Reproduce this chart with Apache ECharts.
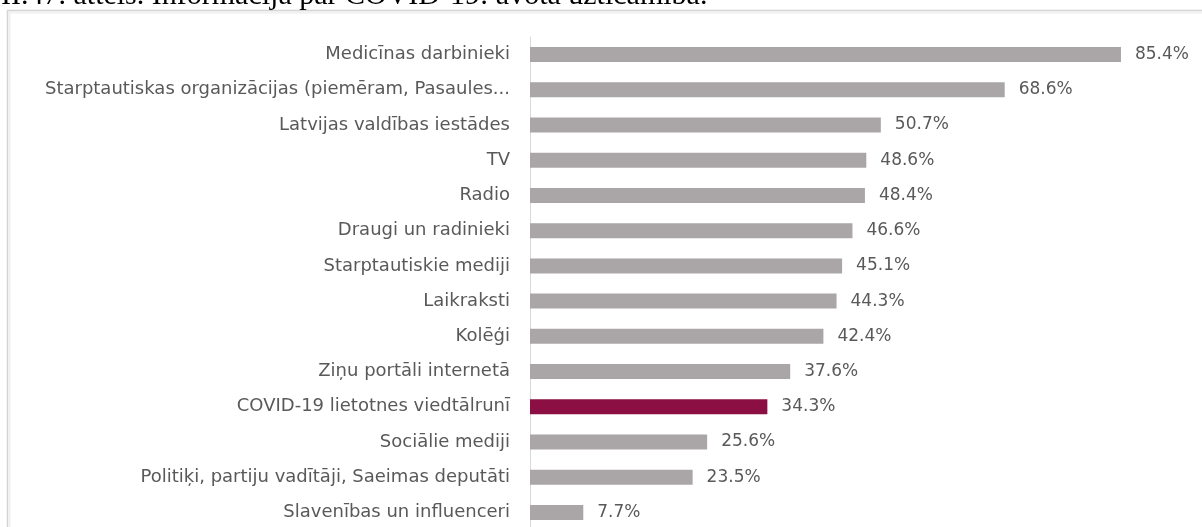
<!DOCTYPE html>
<html lang="lv">
<head>
    <title>Informācija par COVID-19: avota uzticamība</title>
    <meta charset="utf-8" />
    <script src="https://cdn.jsdelivr.net/npm/echarts@6/dist/echarts.min.js"></script>
    <style>
        html, body {
            margin: 0;
            padding: 0;
            background-color: #fff;
        }

        #main {
            width: 1202px;
            height: 527px;
        }
    </style>
    <script>
        let categories = [
            'Medicīnas darbinieki',
            'Starptautiskas organizācijas (piemēram, Pasaules...',
            'Latvijas valdības iestādes',
            'TV',
            'Radio',
            'Draugi un radinieki',
            'Starptautiskie mediji',
            'Laikraksti',
            'Kolēģi',
            'Ziņu portāli internetā',
            'COVID-19 lietotnes viedtālrunī',
            'Sociālie mediji',
            'Politiķi, partiju vadītāji, Saeimas deputāti',
            'Slavenības un influenceri'
        ]
        let values = [85.4, 68.6, 50.7, 48.6, 48.4, 46.6, 45.1, 44.3, 42.4, 37.6, 34.3, 25.6, 23.5, 7.7]
        let highlighted = ['COVID-19 lietotnes viedtālrunī']
        let titleText = 'II.47. attēls. Informācija par COVID-19: avota uzticamība.'

        let colorBar = '#aaa6a7'
        let colorHighlight = '#8b0f42'
        let colorText = '#595959'
        let colorAxis = '#d9d9d9'
    </script>
</head>
<body>
<div id="main"></div>
<script type="text/javascript">
    let myChart = echarts.init(document.getElementById('main'), null, {renderer: 'canvas'});

    let barData = values.map(function (v, i) {
        let item = {value: v}
        if (highlighted.indexOf(categories[i]) >= 0) {
            item.itemStyle = {color: colorHighlight}
        }
        return item
    })

    myChart.setOption({
        animation: false,
        graphic: [
            {
                type: 'rect',
                shape: {x: 7.5, y: 10.5, width: 1300, height: 700},
                style: {fill: null, stroke: '#d4d4d4', lineWidth: 1.5},
                z: 0
            },
            {
                type: 'rect',
                shape: {x: 9.5, y: 12.5, width: 1300, height: 700},
                style: {fill: null, stroke: '#f0f0f0', lineWidth: 2},
                z: 0
            },
            {
                type: 'text',
                x: 1,
                y: -4,
                style: {
                    text: titleText,
                    font: '30px "Liberation Serif"',
                    fill: '#000',
                    verticalAlign: 'middle'
                },
                z: 10
            }
        ],
        grid: {
            left: 530,
            width: 692,
            top: 37,
            height: 493,
            outerBoundsMode: 'none'
        },
        xAxis: {
            type: 'value',
            min: 0,
            max: 100,
            show: false
        },
        yAxis: {
            type: 'category',
            data: categories,
            inverse: true,
            axisLine: {lineStyle: {color: colorAxis, width: 1}},
            axisTick: {length: 5, lineStyle: {color: colorAxis}},
            axisLabel: {
                margin: 20,
                color: colorText,
                fontFamily: 'DejaVu Sans',
                fontSize: 18
            }
        },
        series: [{
            type: 'bar',
            data: barData,
            barWidth: 15,
            itemStyle: {color: colorBar},
            label: {
                show: true,
                position: 'right',
                distance: 14,
                color: colorText,
                fontFamily: 'DejaVu Sans',
                fontSize: 17,
                formatter: function (p) {
                    return p.value.toFixed(1) + '%'
                }
            }
        }]
    });
</script>
</body>
</html>
